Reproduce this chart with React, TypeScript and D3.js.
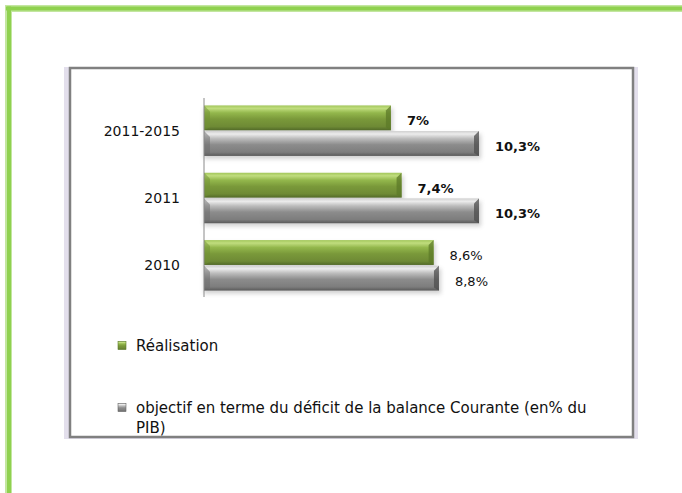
import React from "react";
import * as d3 from "d3";

const categories = ["2011-2015", "2011", "2010"];
const seriesNames = [
  "Réalisation",
  "objectif en terme du déficit de la balance Courante (en% du",
];
const seriesNameLine2 = ["", "PIB)"];
const realisation = [7, 7.4, 8.6];
const objectif = [10.3, 10.3, 8.8];
const realisationLabels = ["7%", "7,4%", "8,6%"];
const objectifLabels = ["10,3%", "10,3%", "8,8%"];
const labelBold = [
  [true, true, false],
  [true, true, false],
];

const W = 682;
const H = 493;

export default function App() {
  const x = d3.scaleLinear().domain([0, 12]).range([204, 524.4]);
  const y = d3
    .scaleBand<string>()
    .domain(categories)
    .range([97, 299])
    .paddingInner(0.25)
    .paddingOuter(0.125);
  const inner = d3
    .scaleBand<string>()
    .domain(["r", "o"])
    .range([0, y.bandwidth()])
    .paddingInner(0.03);

  const series = [
    { key: "r", values: realisation, labels: realisationLabels, grad: "gGreen", bevel: "#5c7a28", bevelL: "#6f8f33" },
    { key: "o", values: objectif, labels: objectifLabels, grad: "gGray", bevel: "#4e4e4e", bevelL: "#6a6a6a" },
  ];

  const font = "'DejaVu Sans', Verdana, sans-serif";

  return (
    <svg
      width={W}
      height={H}
      style={{ position: "absolute", left: 0, top: 0, background: "#fff" }}
    >
      <defs>
        <linearGradient id="gGreen" x1="0" y1="0" x2="0" y2="1">
          <stop offset="0" stopColor="#a2c65a" />
          <stop offset="0.12" stopColor="#c0dd7e" />
          <stop offset="0.3" stopColor="#93b74c" />
          <stop offset="0.55" stopColor="#7a993a" />
          <stop offset="0.85" stopColor="#6e8a35" />
          <stop offset="1" stopColor="#526a28" />
        </linearGradient>
        <linearGradient id="gGray" x1="0" y1="0" x2="0" y2="1">
          <stop offset="0" stopColor="#cfcfcf" />
          <stop offset="0.12" stopColor="#ececec" />
          <stop offset="0.3" stopColor="#bdbdbd" />
          <stop offset="0.55" stopColor="#8c8c8c" />
          <stop offset="0.85" stopColor="#7d7d7d" />
          <stop offset="1" stopColor="#5a5a5a" />
        </linearGradient>
        <filter id="blur" x="-10%" y="-50%" width="120%" height="200%">
          <feGaussianBlur stdDeviation="2" />
        </filter>
      </defs>

      {/* green frame */}
      <rect x={5} y={5} width={W - 5} height={7} fill="#c3e6a0" />
      <rect x={5} y={5} width={7} height={H - 5} fill="#c3e6a0" />
      <rect x={6} y={6.5} width={W - 6} height={4} fill="#8fd14f" />
      <rect x={7} y={6.5} width={4} height={H - 6} fill="#8fd14f" />

      {/* chart box */}
      <rect x={64} y={67} width={574} height={372} fill="#e3dfec" />
      <rect x={70} y={68} width={563} height={369} fill="#ffffff" stroke="#808080" strokeWidth={2.5} />

      {/* shadows under bars */}
      {categories.map((c, i) =>
        series.map((s) => {
          const by = (y(c) as number) + (inner(s.key) as number);
          const bh = inner.bandwidth();
          return (
            <rect
              key={"sh" + c + s.key}
              x={x(0)}
              y={by + 3}
              width={x(s.values[i]) - x(0) + 2}
              height={bh}
              fill="#9a9a9a"
              opacity={0.45}
              filter="url(#blur)"
            />
          );
        })
      )}

      {/* bars */}
      {categories.map((c, i) =>
        series.map((s) => {
          const by = (y(c) as number) + (inner(s.key) as number);
          const bh = inner.bandwidth();
          const x0 = x(0);
          const x1 = x(s.values[i]);
          return (
            <g key={c + s.key}>
              <rect x={x0} y={by} width={x1 - x0} height={bh} fill={`url(#${s.grad})`} />
              <polygon
                points={`${x1 - 5},${by + 5} ${x1},${by} ${x1},${by + bh} ${x1 - 5},${by + bh - 3}`}
                fill={s.bevel}
                opacity={0.75}
              />
              <polygon
                points={`${x0},${by} ${x0 + 6},${by + 6} ${x0 + 6},${by + bh - 3} ${x0},${by + bh}`}
                fill={s.bevelL}
                opacity={0.5}
              />
            </g>
          );
        })
      )}

      {/* axis line */}
      <line x1={204} x2={204} y1={98} y2={297} stroke="#8a8a8a" strokeWidth={1} />

      {/* category labels */}
      {categories.map((c) => (
        <text
          key={"cl" + c}
          x={180}
          y={(y(c) as number) + y.bandwidth() / 2}
          dy="0.35em"
          textAnchor="end"
          fontFamily={font}
          fontSize={14}
          fill="#111"
        >
          {c}
        </text>
      ))}

      {/* value labels */}
      {categories.map((c, i) =>
        series.map((s, si) => {
          const by = (y(c) as number) + (inner(s.key) as number);
          const bh = inner.bandwidth();
          return (
            <text
              key={"vl" + c + s.key}
              x={x(s.values[i]) + 16}
              y={by + bh / 2 + 3}
              dy="0.35em"
              fontFamily={font}
              fontSize={13}
              fontWeight={labelBold[si][i] ? "bold" : "normal"}
              fill="#111"
            >
              {s.labels[i]}
            </text>
          );
        })
      )}

      {/* legend */}
      {seriesNames.map((n, i) => {
        const ly = i === 0 ? 346 : 408;
        return (
          <g key={"lg" + i}>
            <rect x={118} y={ly - 4.5} width={8} height={8} fill={`url(#${series[i].grad})`} stroke={i === 0 ? "#5c7a28" : "#666"} strokeWidth={0.6} />
            <text x={136} y={ly} dy="0.35em" fontFamily={font} fontSize={15} fill="#111">
              {n}
            </text>
            {seriesNameLine2[i] && (
              <text x={136} y={ly + 20} dy="0.35em" fontFamily={font} fontSize={15} fill="#111">
                {seriesNameLine2[i]}
              </text>
            )}
          </g>
        );
      })}
    </svg>
  );
}
